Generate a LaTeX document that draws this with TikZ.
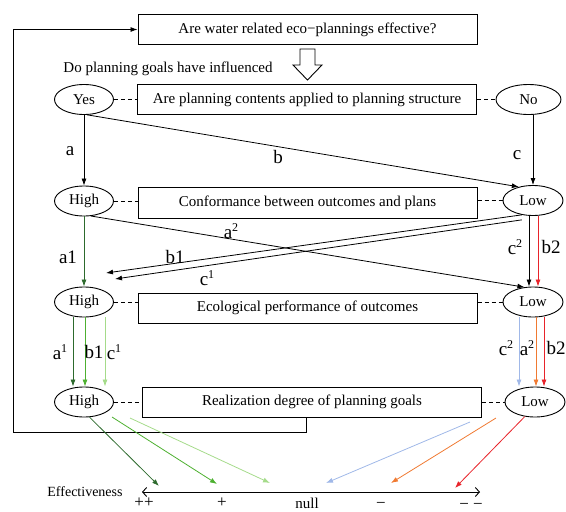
\documentclass[tikz,border=0pt]{standalone}
\usepackage{fontspec}
\setmainfont{Liberation Serif}
\usetikzlibrary{shapes.geometric,arrows.meta,calc}
\newcommand{\hidig}[1]{\raisebox{0.4em}{\fontsize{12}{12}\selectfont #1}}
\definecolor{dkg}{HTML}{2D6A2D}
\definecolor{mdg}{HTML}{4DB030}
\definecolor{ltg}{HTML}{A5DB8A}
\definecolor{ltb}{HTML}{A0B8E8}
\definecolor{org}{HTML}{F07A32}
\definecolor{rdd}{HTML}{E8232A}
\begin{document}
\begin{tikzpicture}[x=1pt,y=-1pt,
  txt/.style={font=\fontsize{15}{18}\selectfont},
  box/.style={draw, line width=1pt, minimum width=339pt, minimum height=30pt, inner sep=0pt, txt},
  ell/.style={draw, ellipse, line width=0.9pt, minimum width=59pt, minimum height=30pt, inner sep=0pt, txt},
  dsh/.style={dash pattern=on 4pt off 3pt, line width=0.9pt},
  arr/.style={-{Latex[length=7pt,width=5pt]}, line width=0.8pt},
  lab/.style={font=\fontsize{19}{20}\selectfont, inner sep=0pt},
  sym/.style={font=\fontsize{17}{18}\selectfont, inner sep=0pt, anchor=base},
]
\useasboundingbox (0,0) rectangle (566,512);

% boxes and ellipses
\node[box] (top) at (307.5,29.5) {Are water related eco−plannings effective?};
\node[txt, inner sep=0pt] (q) at (168,69) {Do planning goals have influenced};
\node[box] (r1) at (307,99.5) {Are planning contents applied to planning structure};
\node[ell] (yes) at (84,99.5) {Yes};
\node[ell, minimum width=65pt] (no) at (528.5,99.5) {No};
\node[box, minimum height=31pt] (r2) at (307.5,202.5) {Conformance between outcomes and plans};
\node[ell] (high2) at (84,201) {High};
\node[ell, minimum width=60pt] (low2) at (533,200.5) {Low};
\node[box] (r3) at (307.5,308) {Ecological performance of outcomes};
\node[ell] (high3) at (84,302) {High};
\node[ell, minimum width=60pt] (low3) at (533,302) {Low};
\node[box] (r4) at (312,402) {Realization degree of planning goals};
\node[ell] (high4) at (84,402) {High};
\node[ell, minimum width=60pt] (low4) at (535,402) {Low};

% dashed links
\draw[dsh] (yes.east) -- (yes.east -| r1.west);
\draw[dsh] (r1.east |- no.west) -- (no.west);
\draw[dsh] (high2.east) -- (high2.east -| r2.west);
\draw[dsh] (r2.east |- low2.west) -- (low2.west);
\draw[dsh] (high3.east) -- (high3.east -| r3.west);
\draw[dsh] (r3.east |- low3.west) -- (low3.west);
\draw[dsh] (high4.east) -- (high4.east -| r4.west);
\draw[dsh] (r4.east |- low4.west) -- (low4.west);

% hollow arrow
\draw[line width=0.9pt, fill=white] (300,49) -- (315,49) -- (315,65) -- (322,65) -- (307.5,80) -- (293,65) -- (300,65) -- cycle;

% feedback loop
\coordinate (fbc) at (13,432);
\draw[arr] ([xshift=-6pt]r4.south) |- (fbc) |- (top.west);

% first level
\draw[arr] (yes) -- (high2);
\node[lab] (la) at (70,151) {a};
\draw[arr] (yes.-78) -- (low2.136);
\node[lab] (lb) at (278,157) {b};
\draw[arr] (low2.north |- no.south) -- (low2.north);
\node[lab] (lc) at (517,155) {c};

% second level
\draw[arr, dkg] (high2) -- (high3);
\node[lab] (la1) at (68,257) {a1};
\draw[arr] (high2.-65) -- (low3.120);
\node[lab] (la2) at (231,231) {a\hidig{2}};
\coordinate (b1e) at (106,273);
\coordinate (c1e) at (115,279);
\draw[arr] (low2.232) -- (b1e);
\draw[arr] ([yshift=-5pt]low2.232) -- (c1e);
\node[lab] (lb1) at (175,257) {b1};
\node[lab] (lc1) at (207,278) {c\hidig{1}};
\draw[arr] ([xshift=-4pt]low2.south) -- ([xshift=-4pt]low2.south |- low3.north);
\draw[arr, rdd] ([xshift=5pt]low2.south) -- ([xshift=5pt]low2.south |- low3.north);
\node[lab] (lc2) at (515,247) {c\hidig{2}};
\node[lab] (lb2) at (551,247) {b2};

% third level
\draw[arr, dkg] ([xshift=-11pt]high3.south) -- ([xshift=-11pt]high3.south |- high4.north);
\draw[arr, mdg] ([xshift=1pt]high3.south) -- ([xshift=1pt]high3.south |- high4.north);
\draw[arr, ltg] ([xshift=21pt]high3.south) -- ([xshift=21pt]high3.south |- high4.north);
\node[lab] (la1b) at (60,352) {a\hidig{1}};
\node[lab] (lb1b) at (94,352) {b1};
\node[lab] (lc1b) at (114,352) {c\hidig{1}};
\draw[arr, ltb] ([xshift=-14pt]low3.south) -- ([xshift=-14pt]low3.south |- low4.north);
\draw[arr, org] ([xshift=3pt]low3.south) -- ([xshift=3pt]low3.south |- low4.north);
\draw[arr, rdd] ([xshift=11pt]low3.south) -- ([xshift=11pt]low3.south |- low4.north);
\node[lab] (lc2b) at (506,348) {c\hidig{2}};
\node[lab] (la2b) at (527,348) {a\hidig{2}};
\node[lab] (lb2b) at (556,348) {b2};

% effectiveness axis
\coordinate (axl) at (142,492);
\coordinate (axr) at (480,492);
\draw[{Straight Barb[length=4pt,width=9pt]}-{Straight Barb[length=4pt,width=9pt]}, line width=0.9pt] (axl) -- (axr);
\node[font=\fontsize{14}{16}\selectfont, inner sep=0pt] (eff) at (85,492) {Effectiveness};
\node[sym] (pp) at (144,507) {++};
\node[sym] (p) at (222,507) {+};
\node[txt, inner sep=0pt, anchor=base] (nl) at (307,508) {null};
\node[sym] (m) at (381,508) {−};
\node[sym] (mm) at (471,509) {− −};

\coordinate (s2) at (112,417);
\coordinate (s3) at (130,418);
\coordinate (s4) at (470,422);
\coordinate (s5) at (496,418);
\coordinate (e1) at (159,486);
\coordinate (e2) at (217,484);
\coordinate (e3) at (270,483);
\coordinate (e4) at (326,483);
\coordinate (e5) at (391,483);
\coordinate (e6) at (455,488);
\draw[arr, dkg] (high4.-70) -- (e1);
\draw[arr, mdg] (s2) -- (e2);
\draw[arr, ltg] (s3) -- (e3);
\draw[arr, ltb] (s4) -- (e4);
\draw[arr, org] (s5) -- (e5);
\draw[arr, rdd] (low4.235) -- (e6);
\end{tikzpicture}
\end{document}
